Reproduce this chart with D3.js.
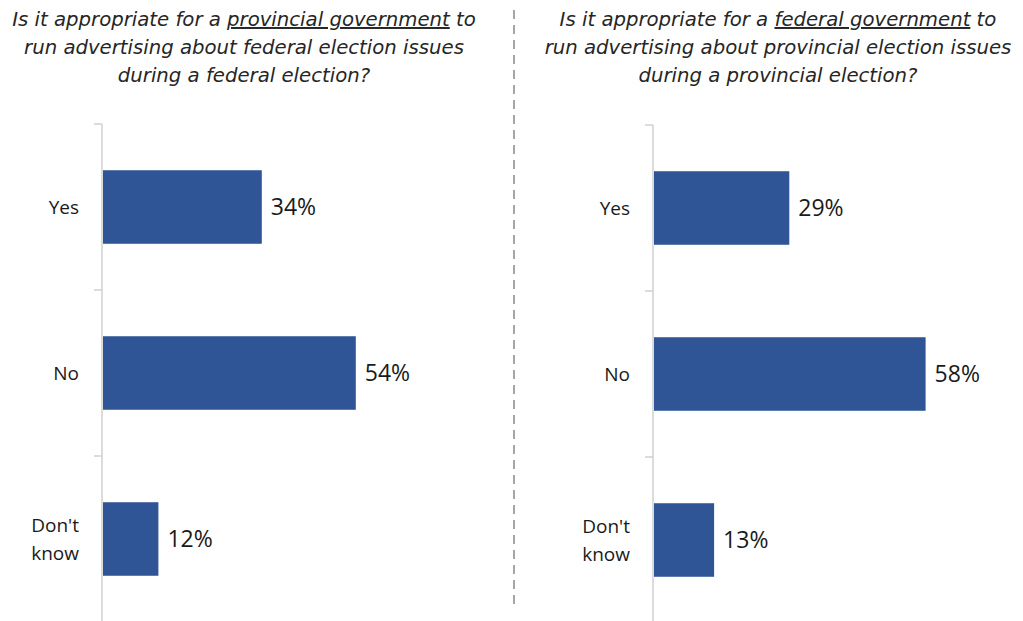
<!DOCTYPE html>
<html>
<head>
<meta charset="utf-8">
<script src="https://cdn.jsdelivr.net/npm/d3@7"></script>
<style>
  html, body { margin: 0; padding: 0; background: #ffffff; }
  svg { display: block; }
  .title { font-family: "DejaVu Sans", sans-serif; font-style: italic; font-size: 19.7px; fill: #262626; }
  .cat { font-family: "Open Sans", sans-serif; font-size: 19px; fill: #1a1a1a; }
  .val { font-family: "Open Sans", sans-serif; font-size: 23px; fill: #1a1a1a; }
</style>
</head>
<body>
<svg id="chart" width="1023" height="621"></svg>
<script>
// Survey answers
const categories = ["Yes", "No", "Don't know"];
const provincialValues = [34, 54, 12];
const federalValues = [29, 58, 13];

// Question text, one array of [text, underlined] pieces per line
const provincialTitle = [
  [["Is it appropriate for a ", false], ["provincial government", true], [" to", false]],
  [["run advertising about federal election issues", false]],
  [["during a federal election?", false]]
];
const federalTitle = [
  [["Is it appropriate for a ", false], ["federal government", true], [" to", false]],
  [["run advertising about provincial election issues", false]],
  [["during a provincial election?", false]]
];

const svg = d3.select("#chart");
const barColor = "#2F5597";

const panels = [
  { values: provincialValues, title: provincialTitle, axisX: 102, top: 124, titleX: 244, labelRight: 79 },
  { values: federalValues, title: federalTitle, axisX: 653, top: 125, titleX: 778, labelRight: 630 }
];

// Dashed divider between the two questions
svg.append("line")
  .attr("x1", 514).attr("x2", 514)
  .attr("y1", 10).attr("y2", 606)
  .attr("stroke", "#a6a6a6").attr("stroke-width", 2)
  .attr("stroke-dasharray", "9,6");

panels.forEach(p => {
  const g = svg.append("g");

  // Title, three centred lines with the government named underlined
  const title = g.append("text").attr("class", "title").attr("text-anchor", "middle");
  p.title.forEach((line, i) => {
    line.forEach(([txt, ul], j) => {
      const s = title.append("tspan").text(txt);
      if (j === 0) s.attr("x", p.titleX).attr("y", 26 + i * 28);
      if (ul) s.attr("text-decoration", "underline");
    });
  });

  const y = d3.scaleBand()
    .domain(categories)
    .range([p.top, p.top + 498])
    .paddingInner(0.557)
    .paddingOuter(0.2785);
  const step = y.step();

  const x = d3.scaleLinear().domain([0, 60]).range([p.axisX, p.axisX + 282]);

  // Category axis line and boundary ticks
  g.append("line")
    .attr("x1", p.axisX).attr("x2", p.axisX)
    .attr("y1", p.top).attr("y2", p.top + 498)
    .attr("stroke", "#d0d0d0").attr("stroke-width", 1.5);
  d3.range(categories.length + 1).forEach(i => {
    const ty = p.top + i * step;
    g.append("line")
      .attr("x1", p.axisX - 8).attr("x2", p.axisX)
      .attr("y1", ty).attr("y2", ty)
      .attr("stroke", "#d0d0d0").attr("stroke-width", 1.5);
  });

  // Bars
  g.selectAll("rect.bar")
    .data(p.values)
    .join("rect")
    .attr("class", "bar")
    .attr("x", x(0) + 1)
    .attr("y", (d, i) => y(categories[i]))
    .attr("width", d => x(d) - x(0) - 1)
    .attr("height", y.bandwidth())
    .attr("fill", barColor);

  // Value labels
  g.selectAll("text.val")
    .data(p.values)
    .join("text")
    .attr("class", "val")
    .attr("x", d => x(d) + 9)
    .attr("y", (d, i) => y(categories[i]) + y.bandwidth() / 2)
    .attr("dy", "0.35em")
    .text(d => d + "%");

  // Category labels: wrapped words centred as a block, block right-aligned to the axis gap
  categories.forEach(c => {
    const cy = y(c) + y.bandwidth() / 2;
    const words = c.split(" ");
    const t = g.append("text").attr("class", "cat").attr("text-anchor", "middle");
    const spans = words.map(w => t.append("tspan").text(w));
    const widths = spans.map(s => s.node().getComputedTextLength());
    const cx = p.labelRight - d3.max(widths) / 2;
    const lh = 28;
    spans.forEach((s, i) => {
      s.attr("x", cx).attr("y", cy + (i - (words.length - 1) / 2) * lh).attr("dy", "0.35em");
    });
  });
});
</script>
</body>
</html>
